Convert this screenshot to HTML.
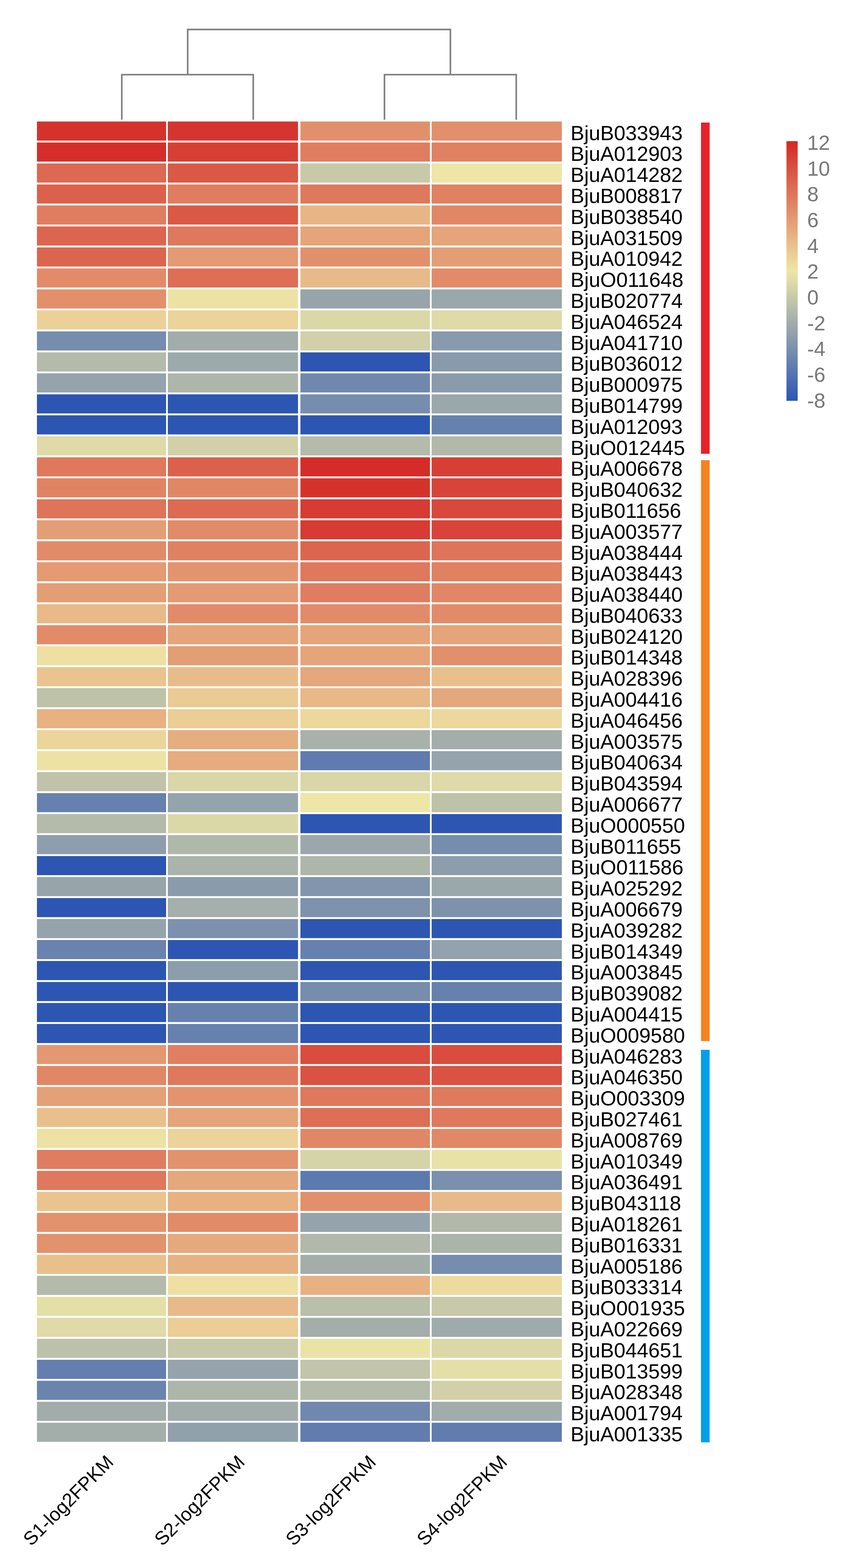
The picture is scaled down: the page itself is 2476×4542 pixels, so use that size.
<!DOCTYPE html><html><head><meta charset="utf-8"><style>html,body{margin:0;padding:0;background:#fff;}svg{display:block}text{font-family:"Liberation Sans",Arial,sans-serif}</style></head><body>
<svg width="2476" height="4542" viewBox="0 0 2476 4542">
<rect width="2476" height="4542" fill="#fff"/>
<rect x="107" y="351.95" width="374" height="55.30" fill="#d5322c"/>
<rect x="486" y="351.95" width="377" height="55.30" fill="#d6352f"/>
<rect x="870" y="351.95" width="375" height="55.30" fill="#e2906c"/>
<rect x="1250" y="351.95" width="377" height="55.30" fill="#e2906c"/>
<rect x="107" y="412.75" width="374" height="55.30" fill="#d52e2a"/>
<rect x="486" y="412.75" width="377" height="55.30" fill="#d73f35"/>
<rect x="870" y="412.75" width="375" height="55.30" fill="#e07d60"/>
<rect x="1250" y="412.75" width="377" height="55.30" fill="#e08162"/>
<rect x="107" y="473.54" width="374" height="55.30" fill="#dd6952"/>
<rect x="486" y="473.54" width="377" height="55.30" fill="#da5846"/>
<rect x="870" y="473.54" width="375" height="55.30" fill="#c7c9a8"/>
<rect x="1250" y="473.54" width="377" height="55.30" fill="#eee6a6"/>
<rect x="107" y="534.34" width="374" height="55.30" fill="#dc614c"/>
<rect x="486" y="534.34" width="377" height="55.30" fill="#e07d60"/>
<rect x="870" y="534.34" width="375" height="55.30" fill="#df785c"/>
<rect x="1250" y="534.34" width="377" height="55.30" fill="#e08162"/>
<rect x="107" y="595.13" width="374" height="55.30" fill="#e07d60"/>
<rect x="486" y="595.13" width="377" height="55.30" fill="#da5846"/>
<rect x="870" y="595.13" width="375" height="55.30" fill="#e8b686"/>
<rect x="1250" y="595.13" width="377" height="55.30" fill="#e18766"/>
<rect x="107" y="655.92" width="374" height="55.30" fill="#dc654f"/>
<rect x="486" y="655.92" width="377" height="55.30" fill="#df785c"/>
<rect x="870" y="655.92" width="375" height="55.30" fill="#e5a479"/>
<rect x="1250" y="655.92" width="377" height="55.30" fill="#e5a479"/>
<rect x="107" y="716.72" width="374" height="55.30" fill="#dc654f"/>
<rect x="486" y="716.72" width="377" height="55.30" fill="#e49a73"/>
<rect x="870" y="716.72" width="375" height="55.30" fill="#e2906c"/>
<rect x="1250" y="716.72" width="377" height="55.30" fill="#e49e75"/>
<rect x="107" y="777.51" width="374" height="55.30" fill="#e28b69"/>
<rect x="486" y="777.51" width="377" height="55.30" fill="#de6e55"/>
<rect x="870" y="777.51" width="375" height="55.30" fill="#e8ba89"/>
<rect x="1250" y="777.51" width="377" height="55.30" fill="#e28b69"/>
<rect x="107" y="838.31" width="374" height="55.30" fill="#e2906c"/>
<rect x="486" y="838.31" width="377" height="55.30" fill="#ede2a3"/>
<rect x="870" y="838.31" width="375" height="55.30" fill="#97a5ab"/>
<rect x="1250" y="838.31" width="377" height="55.30" fill="#9ba8ab"/>
<rect x="107" y="899.11" width="374" height="55.30" fill="#ebd198"/>
<rect x="486" y="899.11" width="377" height="55.30" fill="#ebd399"/>
<rect x="870" y="899.11" width="375" height="55.30" fill="#dbd8a7"/>
<rect x="1250" y="899.11" width="377" height="55.30" fill="#dfdaa7"/>
<rect x="107" y="959.90" width="374" height="55.30" fill="#768dad"/>
<rect x="486" y="959.90" width="377" height="55.30" fill="#a1acab"/>
<rect x="870" y="959.90" width="375" height="55.30" fill="#d1d0a8"/>
<rect x="1250" y="959.90" width="377" height="55.30" fill="#889aac"/>
<rect x="107" y="1020.69" width="374" height="55.30" fill="#b4bbaa"/>
<rect x="486" y="1020.69" width="377" height="55.30" fill="#9daaab"/>
<rect x="870" y="1020.69" width="375" height="55.30" fill="#2d56b2"/>
<rect x="1250" y="1020.69" width="377" height="55.30" fill="#889aac"/>
<rect x="107" y="1081.49" width="374" height="55.30" fill="#95a4ac"/>
<rect x="486" y="1081.49" width="377" height="55.30" fill="#aeb6aa"/>
<rect x="870" y="1081.49" width="375" height="55.30" fill="#7188ae"/>
<rect x="1250" y="1081.49" width="377" height="55.30" fill="#8a9bac"/>
<rect x="107" y="1142.29" width="374" height="55.30" fill="#2d56b2"/>
<rect x="486" y="1142.29" width="377" height="55.30" fill="#2d56b2"/>
<rect x="870" y="1142.29" width="375" height="55.30" fill="#768dad"/>
<rect x="1250" y="1142.29" width="377" height="55.30" fill="#9ba8ab"/>
<rect x="107" y="1203.08" width="374" height="55.30" fill="#2d56b2"/>
<rect x="486" y="1203.08" width="377" height="55.30" fill="#2d56b2"/>
<rect x="870" y="1203.08" width="375" height="55.30" fill="#2d56b2"/>
<rect x="1250" y="1203.08" width="377" height="55.30" fill="#6781ae"/>
<rect x="107" y="1263.88" width="374" height="55.30" fill="#dfdaa7"/>
<rect x="486" y="1263.88" width="377" height="55.30" fill="#d1d0a8"/>
<rect x="870" y="1263.88" width="375" height="55.30" fill="#b4bbaa"/>
<rect x="1250" y="1263.88" width="377" height="55.30" fill="#b2b9aa"/>
<rect x="107" y="1324.67" width="374" height="55.30" fill="#df785c"/>
<rect x="486" y="1324.67" width="377" height="55.30" fill="#dc614c"/>
<rect x="870" y="1324.67" width="375" height="55.30" fill="#d52c29"/>
<rect x="1250" y="1324.67" width="377" height="55.30" fill="#d73f35"/>
<rect x="107" y="1385.47" width="374" height="55.30" fill="#e08363"/>
<rect x="486" y="1385.47" width="377" height="55.30" fill="#e18766"/>
<rect x="870" y="1385.47" width="375" height="55.30" fill="#d5322c"/>
<rect x="1250" y="1385.47" width="377" height="55.30" fill="#d84439"/>
<rect x="107" y="1446.26" width="374" height="55.30" fill="#de7459"/>
<rect x="486" y="1446.26" width="377" height="55.30" fill="#dd6a53"/>
<rect x="870" y="1446.26" width="375" height="55.30" fill="#d73b33"/>
<rect x="1250" y="1446.26" width="377" height="55.30" fill="#d8483c"/>
<rect x="107" y="1507.06" width="374" height="55.30" fill="#e49e75"/>
<rect x="486" y="1507.06" width="377" height="55.30" fill="#e28b69"/>
<rect x="870" y="1507.06" width="375" height="55.30" fill="#d73b33"/>
<rect x="1250" y="1507.06" width="377" height="55.30" fill="#d84439"/>
<rect x="107" y="1567.85" width="374" height="55.30" fill="#e28b69"/>
<rect x="486" y="1567.85" width="377" height="55.30" fill="#e08162"/>
<rect x="870" y="1567.85" width="375" height="55.30" fill="#dc654f"/>
<rect x="1250" y="1567.85" width="377" height="55.30" fill="#de7459"/>
<rect x="107" y="1628.64" width="374" height="55.30" fill="#e49a73"/>
<rect x="486" y="1628.64" width="377" height="55.30" fill="#e3946f"/>
<rect x="870" y="1628.64" width="375" height="55.30" fill="#df785c"/>
<rect x="1250" y="1628.64" width="377" height="55.30" fill="#e08162"/>
<rect x="107" y="1689.44" width="374" height="55.30" fill="#e49e75"/>
<rect x="486" y="1689.44" width="377" height="55.30" fill="#e49a73"/>
<rect x="870" y="1689.44" width="375" height="55.30" fill="#e07d60"/>
<rect x="1250" y="1689.44" width="377" height="55.30" fill="#e18766"/>
<rect x="107" y="1750.24" width="374" height="55.30" fill="#e8ba89"/>
<rect x="486" y="1750.24" width="377" height="55.30" fill="#e28b69"/>
<rect x="870" y="1750.24" width="375" height="55.30" fill="#e28b69"/>
<rect x="1250" y="1750.24" width="377" height="55.30" fill="#e28b69"/>
<rect x="107" y="1811.03" width="374" height="55.30" fill="#e28b69"/>
<rect x="486" y="1811.03" width="377" height="55.30" fill="#e5a479"/>
<rect x="870" y="1811.03" width="375" height="55.30" fill="#e5a479"/>
<rect x="1250" y="1811.03" width="377" height="55.30" fill="#e5a479"/>
<rect x="107" y="1871.83" width="374" height="55.30" fill="#ede0a2"/>
<rect x="486" y="1871.83" width="377" height="55.30" fill="#e49e75"/>
<rect x="870" y="1871.83" width="375" height="55.30" fill="#e5a479"/>
<rect x="1250" y="1871.83" width="377" height="55.30" fill="#e2906c"/>
<rect x="107" y="1932.62" width="374" height="55.30" fill="#e9c48f"/>
<rect x="486" y="1932.62" width="377" height="55.30" fill="#e8bc8a"/>
<rect x="870" y="1932.62" width="375" height="55.30" fill="#e5a77c"/>
<rect x="1250" y="1932.62" width="377" height="55.30" fill="#e9c08c"/>
<rect x="107" y="1993.42" width="374" height="55.30" fill="#bec2a9"/>
<rect x="486" y="1993.42" width="377" height="55.30" fill="#eacb94"/>
<rect x="870" y="1993.42" width="375" height="55.30" fill="#e8b887"/>
<rect x="1250" y="1993.42" width="377" height="55.30" fill="#e5a77c"/>
<rect x="107" y="2054.21" width="374" height="55.30" fill="#e7b182"/>
<rect x="486" y="2054.21" width="377" height="55.30" fill="#ebcd95"/>
<rect x="870" y="2054.21" width="375" height="55.30" fill="#ecd79c"/>
<rect x="1250" y="2054.21" width="377" height="55.30" fill="#ecd79c"/>
<rect x="107" y="2115.01" width="374" height="55.30" fill="#ecd59a"/>
<rect x="486" y="2115.01" width="377" height="55.30" fill="#e6ad80"/>
<rect x="870" y="2115.01" width="375" height="55.30" fill="#a9b2aa"/>
<rect x="1250" y="2115.01" width="377" height="55.30" fill="#a3aeab"/>
<rect x="107" y="2175.80" width="374" height="55.30" fill="#ede2a3"/>
<rect x="486" y="2175.80" width="377" height="55.30" fill="#e6ab7e"/>
<rect x="870" y="2175.80" width="375" height="55.30" fill="#5f7baf"/>
<rect x="1250" y="2175.80" width="377" height="55.30" fill="#95a4ac"/>
<rect x="107" y="2236.59" width="374" height="55.30" fill="#c0c3a9"/>
<rect x="486" y="2236.59" width="377" height="55.30" fill="#d9d6a7"/>
<rect x="870" y="2236.59" width="375" height="55.30" fill="#d9d6a7"/>
<rect x="1250" y="2236.59" width="377" height="55.30" fill="#dfdaa7"/>
<rect x="107" y="2297.39" width="374" height="55.30" fill="#6781ae"/>
<rect x="486" y="2297.39" width="377" height="55.30" fill="#95a4ac"/>
<rect x="870" y="2297.39" width="375" height="55.30" fill="#eee6a6"/>
<rect x="1250" y="2297.39" width="377" height="55.30" fill="#bec2a9"/>
<rect x="107" y="2358.18" width="374" height="55.30" fill="#b4bbaa"/>
<rect x="486" y="2358.18" width="377" height="55.30" fill="#dbd8a7"/>
<rect x="870" y="2358.18" width="375" height="55.30" fill="#2d56b2"/>
<rect x="1250" y="2358.18" width="377" height="55.30" fill="#2d56b2"/>
<rect x="107" y="2418.98" width="374" height="55.30" fill="#8e9eac"/>
<rect x="486" y="2418.98" width="377" height="55.30" fill="#b0b8aa"/>
<rect x="870" y="2418.98" width="375" height="55.30" fill="#9ba8ab"/>
<rect x="1250" y="2418.98" width="377" height="55.30" fill="#768dad"/>
<rect x="107" y="2479.78" width="374" height="55.30" fill="#2d56b2"/>
<rect x="486" y="2479.78" width="377" height="55.30" fill="#aab4aa"/>
<rect x="870" y="2479.78" width="375" height="55.30" fill="#aeb6aa"/>
<rect x="1250" y="2479.78" width="377" height="55.30" fill="#8c9dac"/>
<rect x="107" y="2540.57" width="374" height="55.30" fill="#97a5ab"/>
<rect x="486" y="2540.57" width="377" height="55.30" fill="#8a9bac"/>
<rect x="870" y="2540.57" width="375" height="55.30" fill="#8295ad"/>
<rect x="1250" y="2540.57" width="377" height="55.30" fill="#9ba8ab"/>
<rect x="107" y="2601.36" width="374" height="55.30" fill="#2d56b2"/>
<rect x="486" y="2601.36" width="377" height="55.30" fill="#a5afab"/>
<rect x="870" y="2601.36" width="375" height="55.30" fill="#7e92ad"/>
<rect x="1250" y="2601.36" width="377" height="55.30" fill="#7e92ad"/>
<rect x="107" y="2662.16" width="374" height="55.30" fill="#95a4ac"/>
<rect x="486" y="2662.16" width="377" height="55.30" fill="#7c91ad"/>
<rect x="870" y="2662.16" width="375" height="55.30" fill="#2d56b2"/>
<rect x="1250" y="2662.16" width="377" height="55.30" fill="#2d56b2"/>
<rect x="107" y="2722.95" width="374" height="55.30" fill="#6983ae"/>
<rect x="486" y="2722.95" width="377" height="55.30" fill="#2d56b2"/>
<rect x="870" y="2722.95" width="375" height="55.30" fill="#6781ae"/>
<rect x="1250" y="2722.95" width="377" height="55.30" fill="#93a2ac"/>
<rect x="107" y="2783.75" width="374" height="55.30" fill="#2d56b2"/>
<rect x="486" y="2783.75" width="377" height="55.30" fill="#8c9dac"/>
<rect x="870" y="2783.75" width="375" height="55.30" fill="#2d56b2"/>
<rect x="1250" y="2783.75" width="377" height="55.30" fill="#2d56b2"/>
<rect x="107" y="2844.55" width="374" height="55.30" fill="#2d56b2"/>
<rect x="486" y="2844.55" width="377" height="55.30" fill="#2d56b2"/>
<rect x="870" y="2844.55" width="375" height="55.30" fill="#768dad"/>
<rect x="1250" y="2844.55" width="377" height="55.30" fill="#6781ae"/>
<rect x="107" y="2905.34" width="374" height="55.30" fill="#2d56b2"/>
<rect x="486" y="2905.34" width="377" height="55.30" fill="#6781ae"/>
<rect x="870" y="2905.34" width="375" height="55.30" fill="#2d56b2"/>
<rect x="1250" y="2905.34" width="377" height="55.30" fill="#2d56b2"/>
<rect x="107" y="2966.13" width="374" height="55.30" fill="#2d56b2"/>
<rect x="486" y="2966.13" width="377" height="55.30" fill="#6781ae"/>
<rect x="870" y="2966.13" width="375" height="55.30" fill="#2d56b2"/>
<rect x="1250" y="2966.13" width="377" height="55.30" fill="#2d56b2"/>
<rect x="107" y="3026.93" width="374" height="55.30" fill="#e39872"/>
<rect x="486" y="3026.93" width="377" height="55.30" fill="#e07f61"/>
<rect x="870" y="3026.93" width="375" height="55.30" fill="#d94c3e"/>
<rect x="1250" y="3026.93" width="377" height="55.30" fill="#d94c3e"/>
<rect x="107" y="3087.72" width="374" height="55.30" fill="#e18766"/>
<rect x="486" y="3087.72" width="377" height="55.30" fill="#df785c"/>
<rect x="870" y="3087.72" width="375" height="55.30" fill="#da5242"/>
<rect x="1250" y="3087.72" width="377" height="55.30" fill="#da5242"/>
<rect x="107" y="3148.52" width="374" height="55.30" fill="#e4a077"/>
<rect x="486" y="3148.52" width="377" height="55.30" fill="#e3946f"/>
<rect x="870" y="3148.52" width="375" height="55.30" fill="#df785c"/>
<rect x="1250" y="3148.52" width="377" height="55.30" fill="#df7a5d"/>
<rect x="107" y="3209.32" width="374" height="55.30" fill="#e9c08c"/>
<rect x="486" y="3209.32" width="377" height="55.30" fill="#e5a479"/>
<rect x="870" y="3209.32" width="375" height="55.30" fill="#de6e55"/>
<rect x="1250" y="3209.32" width="377" height="55.30" fill="#df785c"/>
<rect x="107" y="3270.11" width="374" height="55.30" fill="#ede2a3"/>
<rect x="486" y="3270.11" width="377" height="55.30" fill="#ebd399"/>
<rect x="870" y="3270.11" width="375" height="55.30" fill="#e18766"/>
<rect x="1250" y="3270.11" width="377" height="55.30" fill="#e18967"/>
<rect x="107" y="3330.90" width="374" height="55.30" fill="#e07d60"/>
<rect x="486" y="3330.90" width="377" height="55.30" fill="#e3926e"/>
<rect x="870" y="3330.90" width="375" height="55.30" fill="#d5d3a8"/>
<rect x="1250" y="3330.90" width="377" height="55.30" fill="#e8e2a6"/>
<rect x="107" y="3391.70" width="374" height="55.30" fill="#df785c"/>
<rect x="486" y="3391.70" width="377" height="55.30" fill="#e5a77c"/>
<rect x="870" y="3391.70" width="375" height="55.30" fill="#5d7aaf"/>
<rect x="1250" y="3391.70" width="377" height="55.30" fill="#7a90ad"/>
<rect x="107" y="3452.49" width="374" height="55.30" fill="#e9c48f"/>
<rect x="486" y="3452.49" width="377" height="55.30" fill="#e7b182"/>
<rect x="870" y="3452.49" width="375" height="55.30" fill="#e28f6b"/>
<rect x="1250" y="3452.49" width="377" height="55.30" fill="#e8ba89"/>
<rect x="107" y="3513.29" width="374" height="55.30" fill="#e3926e"/>
<rect x="486" y="3513.29" width="377" height="55.30" fill="#e28b69"/>
<rect x="870" y="3513.29" width="375" height="55.30" fill="#95a4ac"/>
<rect x="1250" y="3513.29" width="377" height="55.30" fill="#b2b9aa"/>
<rect x="107" y="3574.09" width="374" height="55.30" fill="#e3926e"/>
<rect x="486" y="3574.09" width="377" height="55.30" fill="#e6a97d"/>
<rect x="870" y="3574.09" width="375" height="55.30" fill="#b2b9aa"/>
<rect x="1250" y="3574.09" width="377" height="55.30" fill="#aab4aa"/>
<rect x="107" y="3634.88" width="374" height="55.30" fill="#e9c08c"/>
<rect x="486" y="3634.88" width="377" height="55.30" fill="#e7b182"/>
<rect x="870" y="3634.88" width="375" height="55.30" fill="#a3aeab"/>
<rect x="1250" y="3634.88" width="377" height="55.30" fill="#768dad"/>
<rect x="107" y="3695.67" width="374" height="55.30" fill="#b4bbaa"/>
<rect x="486" y="3695.67" width="377" height="55.30" fill="#ede0a2"/>
<rect x="870" y="3695.67" width="375" height="55.30" fill="#e7b182"/>
<rect x="1250" y="3695.67" width="377" height="55.30" fill="#ecdb9e"/>
<rect x="107" y="3756.47" width="374" height="55.30" fill="#e4dfa7"/>
<rect x="486" y="3756.47" width="377" height="55.30" fill="#e8ba89"/>
<rect x="870" y="3756.47" width="375" height="55.30" fill="#babfa9"/>
<rect x="1250" y="3756.47" width="377" height="55.30" fill="#c7c9a8"/>
<rect x="107" y="3817.26" width="374" height="55.30" fill="#dfdaa7"/>
<rect x="486" y="3817.26" width="377" height="55.30" fill="#ebcd95"/>
<rect x="870" y="3817.26" width="375" height="55.30" fill="#a3aeab"/>
<rect x="1250" y="3817.26" width="377" height="55.30" fill="#9fabab"/>
<rect x="107" y="3878.06" width="374" height="55.30" fill="#bcc1a9"/>
<rect x="486" y="3878.06" width="377" height="55.30" fill="#c7c9a8"/>
<rect x="870" y="3878.06" width="375" height="55.30" fill="#eae3a6"/>
<rect x="1250" y="3878.06" width="377" height="55.30" fill="#dbd8a7"/>
<rect x="107" y="3938.86" width="374" height="55.30" fill="#637eaf"/>
<rect x="486" y="3938.86" width="377" height="55.30" fill="#95a4ac"/>
<rect x="870" y="3938.86" width="375" height="55.30" fill="#c2c5a9"/>
<rect x="1250" y="3938.86" width="377" height="55.30" fill="#e4dfa7"/>
<rect x="107" y="3999.65" width="374" height="55.30" fill="#6b84ae"/>
<rect x="486" y="3999.65" width="377" height="55.30" fill="#aeb6aa"/>
<rect x="870" y="3999.65" width="375" height="55.30" fill="#b4bbaa"/>
<rect x="1250" y="3999.65" width="377" height="55.30" fill="#d1d0a8"/>
<rect x="107" y="4060.44" width="374" height="55.30" fill="#a1acab"/>
<rect x="486" y="4060.44" width="377" height="55.30" fill="#a1acab"/>
<rect x="870" y="4060.44" width="375" height="55.30" fill="#7188ae"/>
<rect x="1250" y="4060.44" width="377" height="55.30" fill="#a1acab"/>
<rect x="107" y="4121.24" width="374" height="55.30" fill="#a3aeab"/>
<rect x="486" y="4121.24" width="377" height="55.30" fill="#91a1ac"/>
<rect x="870" y="4121.24" width="375" height="55.30" fill="#617daf"/>
<rect x="1250" y="4121.24" width="377" height="55.30" fill="#617daf"/>
<g font-size="59.6" fill="#000">
<text x="1652.2" y="405.60">BjuB033943</text>
<text x="1652.2" y="466.39">BjuA012903</text>
<text x="1652.2" y="527.19">BjuA014282</text>
<text x="1652.2" y="587.98">BjuB008817</text>
<text x="1652.2" y="648.78">BjuB038540</text>
<text x="1652.2" y="709.57">BjuA031509</text>
<text x="1652.2" y="770.37">BjuA010942</text>
<text x="1652.2" y="831.16">BjuO011648</text>
<text x="1652.2" y="891.96">BjuB020774</text>
<text x="1652.2" y="952.75">BjuA046524</text>
<text x="1652.2" y="1013.55">BjuA041710</text>
<text x="1652.2" y="1074.34">BjuB036012</text>
<text x="1652.2" y="1135.14">BjuB000975</text>
<text x="1652.2" y="1195.93">BjuB014799</text>
<text x="1652.2" y="1256.73">BjuA012093</text>
<text x="1652.2" y="1317.52">BjuO012445</text>
<text x="1652.2" y="1378.32">BjuA006678</text>
<text x="1652.2" y="1439.11">BjuB040632</text>
<text x="1652.2" y="1499.91">BjuB011656</text>
<text x="1652.2" y="1560.70">BjuA003577</text>
<text x="1652.2" y="1621.50">BjuA038444</text>
<text x="1652.2" y="1682.29">BjuA038443</text>
<text x="1652.2" y="1743.09">BjuA038440</text>
<text x="1652.2" y="1803.88">BjuB040633</text>
<text x="1652.2" y="1864.68">BjuB024120</text>
<text x="1652.2" y="1925.47">BjuB014348</text>
<text x="1652.2" y="1986.27">BjuA028396</text>
<text x="1652.2" y="2047.06">BjuA004416</text>
<text x="1652.2" y="2107.86">BjuA046456</text>
<text x="1652.2" y="2168.65">BjuA003575</text>
<text x="1652.2" y="2229.45">BjuB040634</text>
<text x="1652.2" y="2290.24">BjuB043594</text>
<text x="1652.2" y="2351.04">BjuA006677</text>
<text x="1652.2" y="2411.83">BjuO000550</text>
<text x="1652.2" y="2472.63">BjuB011655</text>
<text x="1652.2" y="2533.42">BjuO011586</text>
<text x="1652.2" y="2594.22">BjuA025292</text>
<text x="1652.2" y="2655.01">BjuA006679</text>
<text x="1652.2" y="2715.81">BjuA039282</text>
<text x="1652.2" y="2776.60">BjuB014349</text>
<text x="1652.2" y="2837.40">BjuA003845</text>
<text x="1652.2" y="2898.19">BjuB039082</text>
<text x="1652.2" y="2958.99">BjuA004415</text>
<text x="1652.2" y="3019.78">BjuO009580</text>
<text x="1652.2" y="3080.58">BjuA046283</text>
<text x="1652.2" y="3141.37">BjuA046350</text>
<text x="1652.2" y="3202.17">BjuO003309</text>
<text x="1652.2" y="3262.96">BjuB027461</text>
<text x="1652.2" y="3323.76">BjuA008769</text>
<text x="1652.2" y="3384.55">BjuA010349</text>
<text x="1652.2" y="3445.35">BjuA036491</text>
<text x="1652.2" y="3506.14">BjuB043118</text>
<text x="1652.2" y="3566.94">BjuA018261</text>
<text x="1652.2" y="3627.73">BjuB016331</text>
<text x="1652.2" y="3688.53">BjuA005186</text>
<text x="1652.2" y="3749.32">BjuB033314</text>
<text x="1652.2" y="3810.12">BjuO001935</text>
<text x="1652.2" y="3870.91">BjuA022669</text>
<text x="1652.2" y="3931.71">BjuB044651</text>
<text x="1652.2" y="3992.50">BjuB013599</text>
<text x="1652.2" y="4053.30">BjuA028348</text>
<text x="1652.2" y="4114.09">BjuA001794</text>
<text x="1652.2" y="4174.89">BjuA001335</text>
</g>
<g font-size="55" fill="#000" text-anchor="end">
<text transform="translate(332,4238.5) rotate(-45)">S1-log2FPKM</text>
<text transform="translate(712,4238.5) rotate(-45)">S2-log2FPKM</text>
<text transform="translate(1092,4238.5) rotate(-45)">S3-log2FPKM</text>
<text transform="translate(1472,4238.5) rotate(-45)">S4-log2FPKM</text>
</g>
<path d="M543.5,216.3V85.4H1304.3V216.3M352.7,344.5V216.3H733.4V344.5M1113.4,344.5V216.3H1495V344.5" fill="none" stroke="#808080" stroke-width="4.6" stroke-linecap="square"/>
<rect x="2030" y="355" width="25" height="959.5" fill="#e8202a"/>
<rect x="2030" y="1333" width="25" height="1682.6" fill="#f58220"/>
<rect x="2030" y="3041" width="25" height="1137.0" fill="#00a0e9"/>
<defs><linearGradient id="lg" x1="0" y1="0" x2="0" y2="1">
<stop offset="0.000" stop-color="#d42826"/>
<stop offset="0.050" stop-color="#d73b33"/>
<stop offset="0.100" stop-color="#d94e40"/>
<stop offset="0.150" stop-color="#dc614c"/>
<stop offset="0.200" stop-color="#de7459"/>
<stop offset="0.250" stop-color="#e18766"/>
<stop offset="0.300" stop-color="#e49a73"/>
<stop offset="0.350" stop-color="#e6ad80"/>
<stop offset="0.400" stop-color="#e9c08c"/>
<stop offset="0.450" stop-color="#ebd399"/>
<stop offset="0.500" stop-color="#eee6a6"/>
<stop offset="0.550" stop-color="#dbd8a7"/>
<stop offset="0.600" stop-color="#c7c9a8"/>
<stop offset="0.650" stop-color="#b4bbaa"/>
<stop offset="0.700" stop-color="#a1acab"/>
<stop offset="0.750" stop-color="#8e9eac"/>
<stop offset="0.800" stop-color="#7a90ad"/>
<stop offset="0.850" stop-color="#6781ae"/>
<stop offset="0.900" stop-color="#5473b0"/>
<stop offset="0.950" stop-color="#4064b1"/>
<stop offset="1.000" stop-color="#2d56b2"/>
</linearGradient></defs>
<rect x="2277.5" y="409" width="32.5" height="752" fill="url(#lg)"/>
<g font-size="59.5" fill="#787878">
<text x="2337.5" y="433.90">12</text>
<text x="2337.5" y="508.57">10</text>
<text x="2337.5" y="583.24">8</text>
<text x="2337.5" y="657.91">6</text>
<text x="2337.5" y="732.58">4</text>
<text x="2337.5" y="807.25">2</text>
<text x="2337.5" y="881.92">0</text>
<text x="2337.5" y="956.59">-2</text>
<text x="2337.5" y="1031.26">-4</text>
<text x="2337.5" y="1105.93">-6</text>
<text x="2337.5" y="1180.60">-8</text>
</g>
</svg></body></html>
